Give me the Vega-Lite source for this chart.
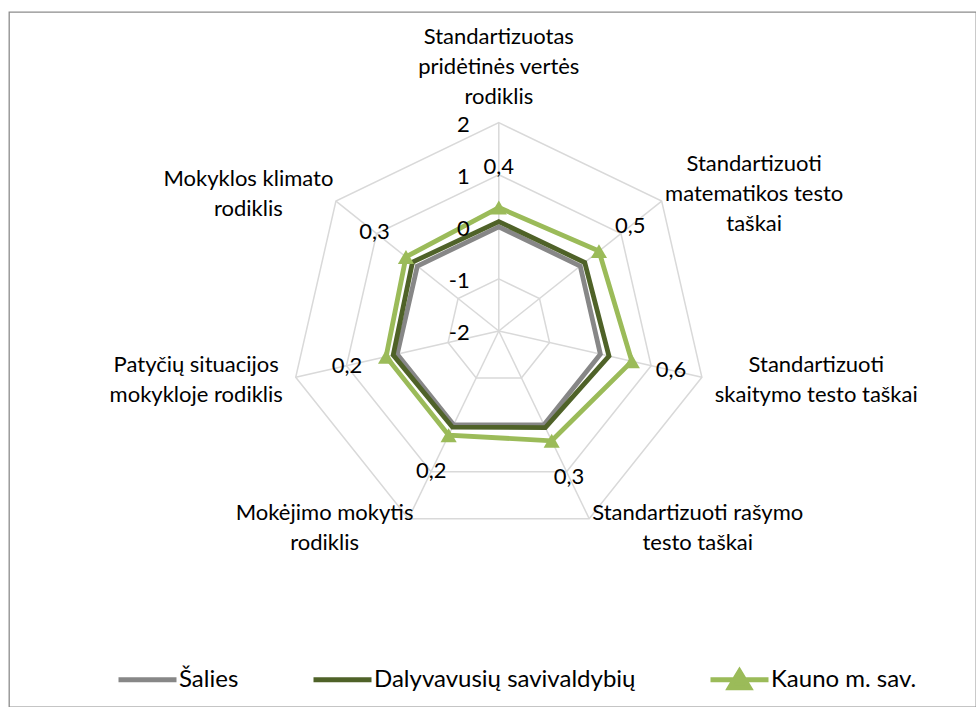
{
  "$schema": "https://vega.github.io/schema/vega-lite/v6.json",
  "width": 967,
  "height": 695,
  "autosize": "none",
  "padding": {"left": 9, "top": 12, "right": 0, "bottom": 0},
  "background": "white",
  "title": {"text": "4 klasė", "font": "Lato", "fontSize": 24, "fontWeight": "bold", "anchor": "middle", "baseline": "alphabetic", "offset": 1, "dx": 6, "color": "#000000"},
  "config": {
    "view": {"stroke": "#8c8c8c", "strokeWidth": 1.3},
    "locale": {"number": {"decimal": ",", "thousands": " ", "grouping": [3], "currency": ["", " €"], "minus": "-"}},
    "font": "Lato"
  },
  "datasets": {
    "axes": [
      {"k": 0, "lines": ["Standartizuotas", "pridėtinės vertės", "rodiklis"]},
      {"k": 1, "lines": ["Standartizuoti", "matematikos testo", "taškai"]},
      {"k": 2, "lines": ["Standartizuoti", "skaitymo testo taškai"]},
      {"k": 3, "lines": ["Standartizuoti rašymo", "testo taškai"]},
      {"k": 4, "lines": ["Mokėjimo mokytis", "rodiklis"]},
      {"k": 5, "lines": ["Patyčių situacijos", "mokykloje rodiklis"]},
      {"k": 6, "lines": ["Mokyklos klimato", "rodiklis"]}
    ],
    "rings": [
      {"v": -2, "ks": [0, 1, 2, 3, 4, 5, 6]},
      {"v": -1, "ks": [0, 1, 2, 3, 4, 5, 6]},
      {"v": 0, "ks": [0, 1, 2, 3, 4, 5, 6]},
      {"v": 1, "ks": [0, 1, 2, 3, 4, 5, 6]},
      {"v": 2, "ks": [0, 1, 2, 3, 4, 5, 6]}
    ],
    "values": [
      {"series": "Šalies", "k": 0, "value": 0},
      {"series": "Šalies", "k": 1, "value": 0},
      {"series": "Šalies", "k": 2, "value": 0},
      {"series": "Šalies", "k": 3, "value": 0},
      {"series": "Šalies", "k": 4, "value": 0},
      {"series": "Šalies", "k": 5, "value": 0},
      {"series": "Šalies", "k": 6, "value": 0},
      {"series": "Dalyvavusių savivaldybių", "k": 0, "value": 0.10},
      {"series": "Dalyvavusių savivaldybių", "k": 1, "value": 0.11},
      {"series": "Dalyvavusių savivaldybių", "k": 2, "value": 0.17},
      {"series": "Dalyvavusių savivaldybių", "k": 3, "value": 0.06},
      {"series": "Dalyvavusių savivaldybių", "k": 4, "value": 0.05},
      {"series": "Dalyvavusių savivaldybių", "k": 5, "value": 0.08},
      {"series": "Dalyvavusių savivaldybių", "k": 6, "value": 0.12},
      {"series": "Kauno m. sav.", "k": 0, "value": 0.37},
      {"series": "Kauno m. sav.", "k": 1, "value": 0.46},
      {"series": "Kauno m. sav.", "k": 2, "value": 0.62},
      {"series": "Kauno m. sav.", "k": 3, "value": 0.34},
      {"series": "Kauno m. sav.", "k": 4, "value": 0.22},
      {"series": "Kauno m. sav.", "k": 5, "value": 0.22},
      {"series": "Kauno m. sav.", "k": 6, "value": 0.28}
    ]
  },
  "encoding": {
    "x": {"field": "x", "type": "quantitative", "scale": {"domain": [-9.405, 9.163], "nice": false, "zero": false}, "axis": null},
    "y": {"field": "y", "type": "quantitative", "scale": {"domain": [-7.22, 6.125], "nice": false, "zero": false}, "axis": null}
  },
  "layer": [
    {
      "data": {"name": "rings"},
      "transform": [
        {"filter": "datum.v > -2"},
        {"flatten": ["ks"], "as": ["k"]},
        {"calculate": "datum.k * 2 * PI / 7", "as": "a"},
        {"calculate": "sin(datum.a) * (datum.v + 2)", "as": "x"},
        {"calculate": "cos(datum.a) * (datum.v + 2)", "as": "y"}
      ],
      "mark": {"type": "line", "interpolate": "linear-closed", "stroke": "#d9d9d9", "strokeWidth": 1.5},
      "encoding": {
        "detail": {"field": "v", "type": "nominal"},
        "order": {"field": "k", "type": "quantitative"}
      }
    },
    {
      "data": {"name": "axes"},
      "transform": [
        {"calculate": "datum.k * 2 * PI / 7", "as": "a"},
        {"calculate": "sin(datum.a) * 4", "as": "x"},
        {"calculate": "cos(datum.a) * 4", "as": "y"},
        {"calculate": "0", "as": "x0"},
        {"calculate": "0", "as": "y0"}
      ],
      "mark": {"type": "rule", "stroke": "#d9d9d9", "strokeWidth": 1.5},
      "encoding": {
        "x2": {"field": "x0"},
        "y2": {"field": "y0"}
      }
    },
    {
      "data": {"name": "values"},
      "transform": [
        {"calculate": "datum.k * 2 * PI / 7", "as": "a"},
        {"calculate": "sin(datum.a) * (datum.value + 2)", "as": "x"},
        {"calculate": "cos(datum.a) * (datum.value + 2)", "as": "y"}
      ],
      "mark": {"type": "line", "interpolate": "linear-closed", "strokeWidth": 4.8, "strokeJoin": "miter"},
      "encoding": {
        "color": {
          "field": "series",
          "type": "nominal",
          "sort": ["Šalies", "Dalyvavusių savivaldybių", "Kauno m. sav."],
          "scale": {"domain": ["Šalies", "Dalyvavusių savivaldybių", "Kauno m. sav."], "range": ["#878787", "#4f6228", "#9bbb59"]},
          "legend": {
            "orient": "none",
            "legendX": 107,
            "legendY": 636,
            "direction": "horizontal",
            "title": null,
            "symbolType": "M-1,0H1",
            "symbolSize": 3364,
            "symbolStrokeWidth": 5,
            "labelFont": "Lato",
            "labelFontSize": 24,
            "labelColor": "#000000",
            "labelOffset": 0,
            "labelLimit": 600,
            "columnPadding": 64,
            "encode": {
              "symbols": {
                "update": {
                  "shape": {"signal": "datum.value === 'Kauno m. sav.' ? 'M-1,0H1M-0.34,0.27L0,-0.29L0.34,0.27Z' : 'M-1,0H1M0,-0.29L0,-0.29M0,0.27L0,0.27'"},
                  "fill": {"signal": "scale('color', datum.value)"},
                  "stroke": {"signal": "scale('color', datum.value)"},
                  "opacity": {"value": 1}
                }
              }
            }
          }
        },
        "order": {"field": "k", "type": "quantitative"}
      }
    },
    {
      "data": {"name": "values"},
      "transform": [
        {"filter": "datum.series === 'Kauno m. sav.'"},
        {"calculate": "datum.k * 2 * PI / 7", "as": "a"},
        {"calculate": "sin(datum.a) * (datum.value + 2)", "as": "x"},
        {"calculate": "cos(datum.a) * (datum.value + 2)", "as": "y"}
      ],
      "mark": {"type": "point", "shape": "triangle-up", "filled": true, "size": 260, "opacity": 1, "color": "#9bbb59"}
    },
    {
      "data": {"name": "values"},
      "transform": [
        {"filter": "datum.series === 'Kauno m. sav.'"},
        {"calculate": "datum.k * 2 * PI / 7", "as": "a"},
        {"calculate": "sin(datum.a) * (datum.value + 2.77)", "as": "x"},
        {"calculate": "cos(datum.a) * (datum.value + 2.77)", "as": "y"}
      ],
      "mark": {"type": "text", "align": "center", "baseline": "middle", "font": "Lato", "fontSize": 22, "color": "#000000"},
      "encoding": {
        "text": {"field": "value", "type": "quantitative", "format": ".1f"}
      }
    },
    {
      "data": {"name": "rings"},
      "transform": [
        {"calculate": "0", "as": "x"},
        {"calculate": "datum.v + 2", "as": "y"}
      ],
      "mark": {"type": "text", "align": "right", "baseline": "middle", "dx": -29, "dy": 2, "font": "Lato", "fontSize": 22, "color": "#000000"},
      "encoding": {
        "text": {"field": "v", "type": "nominal"}
      }
    },
    {
      "data": {"name": "axes"},
      "transform": [
        {"calculate": "datum.k * 2 * PI / 7", "as": "a"},
        {"calculate": "sin(datum.a) > 0.1 ? 1 : (sin(datum.a) < -0.1 ? -1 : 0)", "as": "side"},
        {"calculate": "max(length(datum.lines[0]), length(datum.lines) > 1 ? length(datum.lines[1]) : 0, length(datum.lines) > 2 ? length(datum.lines[2]) : 0)", "as": "maxlen"},
        {"calculate": "sin(datum.a) * 4.205 + datum.side * datum.maxlen * 9.9 / 2 / 52.08", "as": "x"},
        {"calculate": "cos(datum.a) * 4.205 + (datum.side === 0 ? length(datum.lines) * 30 / 2 / 52.08 : 0) + (length(datum.lines) - 1) * 30 / 2 / 52.08", "as": "y"}
      ],
      "mark": {"type": "text", "align": "center", "baseline": "middle", "lineHeight": 30, "font": "Lato", "fontSize": 22, "color": "#000000"},
      "encoding": {
        "text": {"field": "lines", "type": "nominal"}
      }
    }
  ]
}
